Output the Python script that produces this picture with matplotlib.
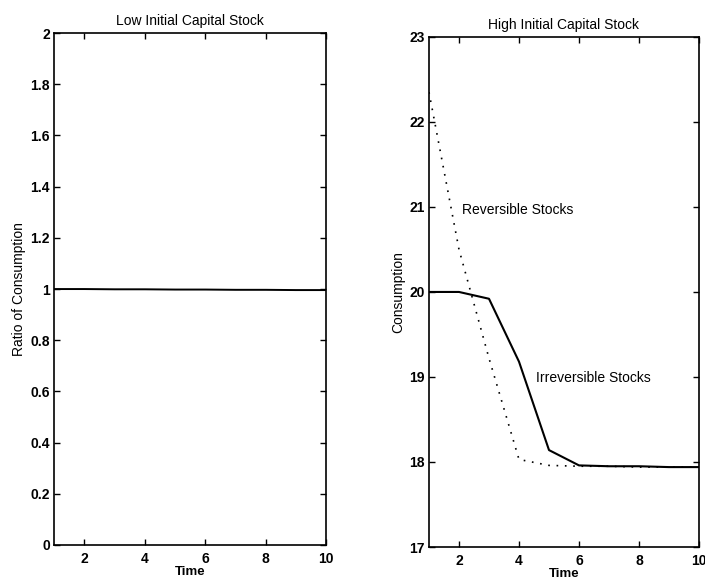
import matplotlib
matplotlib.use("Agg")
import matplotlib.pyplot as plt

plt.rcParams["font.family"] = ["Liberation Sans", "DejaVu Sans"]

time = [1, 2, 3, 4, 5, 6, 7, 8, 9, 10]
ratio = [1.0, 1.0, 0.999, 0.999, 0.998, 0.998, 0.997, 0.997, 0.996, 0.996]
irreversible = [20.0, 20.0, 19.92, 19.18, 18.14, 17.96, 17.95, 17.95, 17.94, 17.94]
reversible = [22.35, 20.5, 19.22, 18.03, 17.96, 17.95, 17.95, 17.94, 17.94, 17.94]

fig = plt.figure(figsize=(7.05, 5.81), dpi=100)
ax1 = fig.add_axes([0.0766, 0.062, 0.386, 0.881])
ax2 = fig.add_axes([0.6085, 0.0585, 0.383, 0.878])


def style(ax):
    ax.tick_params(direction="in", top=True, right=True, length=4, width=1,
                   labelsize=10)
    ax.tick_params(axis="x", pad=5)
    ax.tick_params(axis="y", pad=3)
    for lab in ax.get_xticklabels() + ax.get_yticklabels():
        lab.set_fontweight("bold")
    for s in ax.spines.values():
        s.set_linewidth(1.2)


ax1.plot(time, ratio, color="black", linewidth=1.4)
ax1.set_xlim(1, 10)
ax1.set_ylim(0, 2)
ax1.set_xticks([2, 4, 6, 8, 10])
ax1.set_yticks([0, 0.2, 0.4, 0.6, 0.8, 1, 1.2, 1.4, 1.6, 1.8, 2])
ax1.set_yticklabels(["0", "0.2", "0.4", "0.6", "0.8", "1", "1.2", "1.4", "1.6", "1.8", "2"])
ax1.set_title("Low Initial Capital Stock", fontsize=10, pad=6)
ax1.set_xlabel("Time", fontsize=9.5, fontweight="bold", labelpad=0)
ax1.set_ylabel("Ratio of Consumption", fontsize=10, labelpad=3)
style(ax1)

ax2.plot(time, irreversible, color="black", linewidth=1.5)
ax2.plot(time, reversible, color="black", linewidth=1.2, linestyle=(0, (1, 4)))
ax2.set_xlim(1, 10)
ax2.set_ylim(17, 23)
ax2.set_xticks([2, 4, 6, 8, 10])
ax2.set_yticks([17, 18, 19, 20, 21, 22, 23])
ax2.text(2.1, 20.96, "Reversible Stocks", fontsize=10, va="center")
ax2.text(4.57, 18.99, "Irreversible Stocks", fontsize=10, va="center")
ax2.set_title("High Initial Capital Stock", fontsize=10, pad=6)
ax2.set_xlabel("Time", fontsize=9.5, fontweight="bold", labelpad=0)
ax2.set_ylabel("Consumption", fontsize=10, labelpad=3)
style(ax2)

fig.savefig("out.png", dpi=100)
